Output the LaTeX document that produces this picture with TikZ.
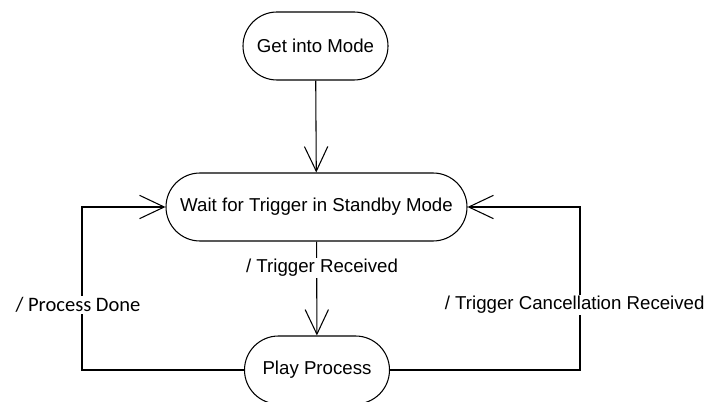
\documentclass[tikz,border=0pt]{standalone}
\usepackage{fontspec}
\setmainfont{Liberation Sans}
\newfontfamily\calibrifont{Carlito}
\usetikzlibrary{arrows.meta,positioning}

\begin{document}
\begin{tikzpicture}[x=0.75pt,y=-0.75pt,
    state/.style={draw,line width=0.8pt,minimum height=51pt,rounded corners=25.5pt,
      font=\fontsize{14}{16}\selectfont},
    trans/.style={line width=0.8pt,-{Straight Barb[length=18.5pt,width=17.5pt,line width=0.8pt]}},
    guard/.style={fill=white,inner sep=1pt,font=\fontsize{14}{16}\selectfont}]
  \useasboundingbox (0,0) rectangle (707,402);
  \node[state,minimum width=108.75pt] (enter) at (315.5,46) {Get into Mode};
  \node[state,minimum width=225.75pt] (standby) at (316.5,207) {Wait for Trigger in Standby Mode};
  \node[state,minimum width=108.75pt] (play) at (317,370) {Play Process};
  \coordinate (lturn) at (82,207);
  \coordinate (rturn) at (580,207);
  \draw[trans] (enter) -- (standby);
  \draw[trans] (standby) -- (play) node[guard,pos=0.28,xshift=4pt] {/ Trigger Received};
  \draw[trans] (play.west) -| (lturn) node[guard,pos=0.7,xshift=-3pt,
    font=\calibrifont\fontsize{15.4}{18}\selectfont] {/ Process Done} -- (standby.west);
  \draw[trans] (play.east) -| (rturn) node[guard,pos=0.7,xshift=-4pt] {/ Trigger Cancellation Received}
    -- (standby.east);
\end{tikzpicture}
\end{document}
